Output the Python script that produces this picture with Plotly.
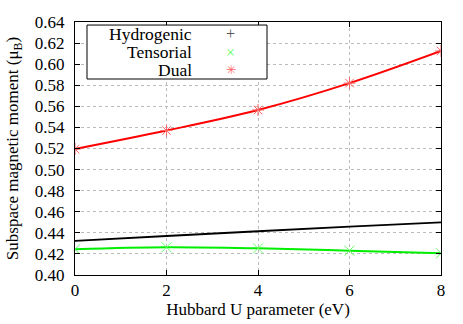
import plotly.graph_objects as go

u_values = [0, 2, 4, 6, 8]
hydrogenic = [0.4323, 0.4370, 0.4415, 0.4458, 0.4500]
tensorial = [0.4244, 0.4263, 0.4253, 0.4231, 0.4206]
dual = [0.5195, 0.5370, 0.5565, 0.5820, 0.6125]

series_names = ["Hydrogenic", "Tensorial", "Dual"]
legend_symbols = ["+", "×", "✳"]

x_ticks = [0, 2, 4, 6, 8]
y_ticks = [0.40, 0.42, 0.44, 0.46, 0.48, 0.50, 0.52, 0.54, 0.56, 0.58, 0.60, 0.62, 0.64]

FONT = "Liberation Serif"

fig = go.Figure()

# smooth curves
fig.add_trace(go.Scatter(x=u_values, y=hydrogenic, mode="lines", name=series_names[0],
                         line=dict(color="black", width=1.8, shape="spline"), showlegend=False))
fig.add_trace(go.Scatter(x=u_values, y=tensorial, mode="lines", name=series_names[1],
                         line=dict(color="#00ee00", width=2, shape="spline"), showlegend=False))
fig.add_trace(go.Scatter(x=u_values, y=dual, mode="lines", name=series_names[2],
                         line=dict(color="#ff0000", width=2, shape="spline"), showlegend=False))

# data point markers
fig.add_trace(go.Scatter(x=u_values, y=tensorial, mode="markers", name=series_names[1], showlegend=False,
                         marker=dict(symbol="x-thin", size=10, line=dict(color="#66ff66", width=1))))
fig.add_trace(go.Scatter(x=u_values, y=dual, mode="markers", name=series_names[2], showlegend=False,
                         marker=dict(symbol="asterisk", size=10, line=dict(color="#ff6666", width=1))))

axis_common = dict(
    showline=True, linecolor="black", linewidth=1, mirror="allticks",
    ticks="inside", ticklen=5, tickcolor="black",
    showgrid=True, gridcolor="#bbbbbb", griddash="dot", gridwidth=1,
    zeroline=False, tickfont=dict(family=FONT, size=17, color="black"),
)

fig.update_xaxes(range=[0, 8], tickvals=x_ticks, ticktext=[str(v) for v in x_ticks],
                 title=dict(text="Hubbard U parameter (eV)", font=dict(family=FONT, size=17, color="black"), standoff=1),
                 **axis_common)
fig.update_yaxes(range=[0.40, 0.64], tickvals=y_ticks, ticktext=[f"{v:.2f}" for v in y_ticks],
                 ticklabelstandoff=6,
                 title=dict(text="Subspace magnetic moment (μ<sub>B</sub>)", font=dict(family=FONT, size=17, color="black"), standoff=11),
                 **axis_common)

# gnuplot-style key: text right-aligned, symbol on the right, boxed
fig.add_shape(type="rect", xref="paper", yref="paper", x0=0.0328, x1=0.5246, y0=0.7747, y1=0.988,
              line=dict(color="black", width=1), fillcolor="white", layer="above")
row_y = [0.9526, 0.881, 0.810]
sym_colors = ["#555555", "#66ff66", "#ff6666"]
sym_fonts = [dict(family=FONT, size=16), dict(family=FONT, size=16), dict(family="DejaVu Sans", size=12)]
for name, sym, yy, col, sf in zip(series_names, legend_symbols, row_y, sym_colors, sym_fonts):
    fig.add_annotation(xref="paper", yref="paper", x=0.325, y=yy, text=name, showarrow=False,
                       xanchor="right", yanchor="middle", font=dict(family=FONT, size=17.5, color="black"))
    fig.add_annotation(xref="paper", yref="paper", x=0.426, y=yy, text=sym, showarrow=False,
                       xanchor="center", yanchor="middle", font=dict(color=col, **sf))

fig.update_layout(
    width=463, height=324,
    margin=dict(l=75, r=22, t=22, b=49),
    paper_bgcolor="white", plot_bgcolor="white",
    font=dict(family=FONT, size=16, color="black"),
    showlegend=False,
)

fig.write_html("out.html", config={"displayModeBar": False},
               post_script="document.body.style.margin='0px';")
